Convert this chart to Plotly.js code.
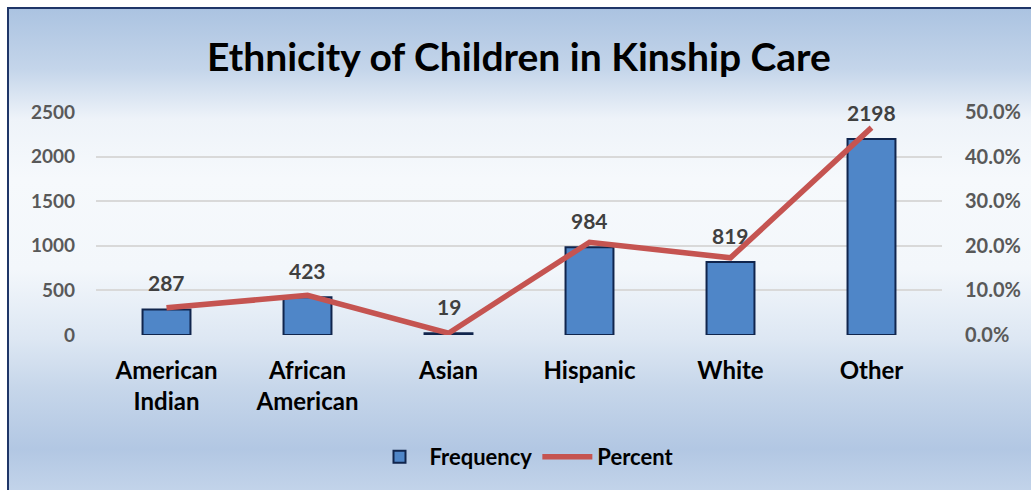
<!DOCTYPE html>
<html>
<head>
<meta charset="utf-8">
<script src="https://cdn.plot.ly/plotly-3.0.1.min.js"></script>
<style>
html,body{margin:0;padding:0;background:#ffffff;width:1031px;height:490px;overflow:hidden;}
#bg{position:absolute;left:7px;top:7px;width:1030px;height:490px;box-sizing:border-box;
border-left:2px solid #1f3668;border-top:2px solid #1f3668;
background:linear-gradient(to bottom,#abc3e1 0px,#c4d5ea 60px,#eef3f9 110px,#f6f9fc 170px,#f3f7fb 260px,#dde7f3 330px,#c6d6ea 380px,#b2c7e3 440px,#c3d4ea 483px);}
#chart{position:absolute;left:0;top:0;width:1031px;height:490px;}
</style>
</head>
<body>
<div id="bg"></div>
<div id="chart"></div>
<script>
const categories = ["American<br>Indian", "African<br>American", "Asian", "Hispanic", "White", "Other"];
const frequency = [287, 423, 19, 984, 819, 2198];
const percent = [0.061, 0.089, 0.004, 0.208, 0.173, 0.465];
const freqTicks = [0, 500, 1000, 1500, 2000, 2500];
const pctTicks = [0, 0.1, 0.2, 0.3, 0.4, 0.5];

const FONT = "Lato, 'Open Sans', sans-serif";

const bars = {
  type: 'bar', name: 'Frequency', x: categories, y: frequency,
  width: 0.34,
  marker: {color: '#4f86c8', line: {color: '#10254d', width: 2}},
  hoverinfo: 'x+y'
};
const line = {
  type: 'scatter', mode: 'lines', name: 'Percent', x: categories, y: percent,
  yaxis: 'y2',
  line: {color: '#c55451', width: 5.5},
  hoverinfo: 'x+y'
};

const annotations = categories.map((c, i) => ({
  x: c, y: frequency[i], xref: 'x', yref: 'y',
  text: String(frequency[i]), showarrow: false,
  yanchor: 'bottom', yshift: 12,
  font: {family: FONT, size: 21, color: '#404040', weight: 'bold'}
}));

const layout = {
  width: 1031, height: 490,
  paper_bgcolor: 'rgba(0,0,0,0)', plot_bgcolor: 'rgba(0,0,0,0)',
  margin: {l: 96, r: 89, t: 112, b: 155},
  title: {text: 'Ethnicity of Children in Kinship Care',
    font: {family: FONT, size: 39, color: '#000000', weight: 'bold'},
    x: 0.5, xanchor: 'center', y: 1 - 57/490, yanchor: 'middle', xref: 'paper'},
  showlegend: true,
  legend: {orientation: 'h', x: (524-96)/846, xanchor: 'center', y: (335-457)/223, yanchor: 'middle',
    font: {family: FONT, size: 22, color: '#000000', weight: 'bold'}, bgcolor: 'rgba(0,0,0,0)',
    itemwidth: 50, traceorder: 'normal'},
  xaxis: {
    type: 'category', showgrid: false, zeroline: false, showline: false,
    ticks: '', tickfont: {family: FONT, size: 24, color: '#000000', weight: 'bold'},
    ticklabelstandoff: 19
  },
  yaxis: {
    range: [0, 2500], tickvals: freqTicks, showgrid: true, gridcolor: '#d9d9d9', gridwidth: 2,
    zeroline: false, showline: false, ticks: '',
    tickfont: {family: FONT, size: 19, color: '#595959', weight: 'bold'},
    ticklabelstandoff: 20
  },
  yaxis2: {
    range: [0, 0.5], tickvals: pctTicks, tickformat: '.1%', overlaying: 'y', side: 'right',
    showgrid: false, zeroline: false, showline: false, ticks: '',
    tickfont: {family: FONT, size: 20, color: '#595959', weight: 'bold'},
    ticklabelstandoff: 22
  },
  annotations: annotations
};

Plotly.newPlot('chart', [bars, line], layout, {displayModeBar: false, staticPlot: true});
</script>
</body>
</html>
